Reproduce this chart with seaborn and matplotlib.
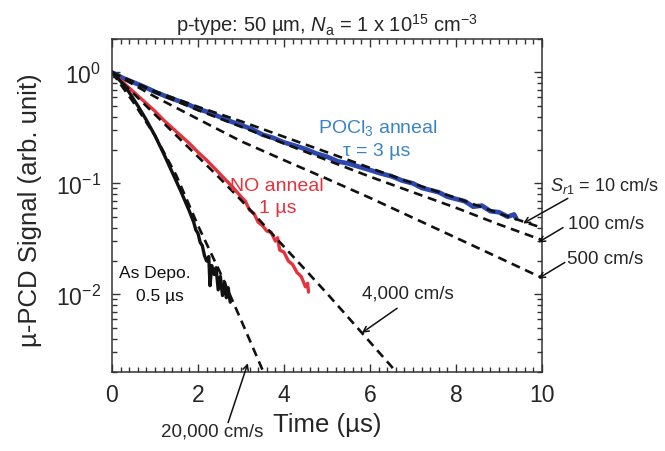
import numpy as np
import pandas as pd
import matplotlib
matplotlib.use("Agg")
import matplotlib.pyplot as plt
import seaborn as sns
from matplotlib.ticker import LogLocator, MultipleLocator, NullFormatter

# --- Dane ---
# POCl3 anneal (niebieska)
t_pocl = [0.0, 0.25, 0.5, 0.75, 1.0, 1.25, 1.5, 1.75, 2.0, 2.25, 2.5, 2.75, 3.0, 3.25,
          3.5, 3.75, 4.0, 4.25, 4.5, 4.75, 5.0, 5.25, 5.5, 5.75, 6.0, 6.25, 6.5, 6.75,
          7.0, 7.2, 7.4, 7.6, 7.8, 8.0, 8.2, 8.4, 8.6, 8.8, 9.0, 9.2, 9.35, 9.4]
s_pocl = [1.0, 0.891, 0.813, 0.741, 0.668, 0.610, 0.562, 0.519, 0.468, 0.437, 0.398,
          0.363, 0.335, 0.309, 0.275, 0.257, 0.234, 0.219, 0.204, 0.186, 0.174, 0.158,
          0.151, 0.141, 0.132, 0.123, 0.116, 0.106, 0.100, 0.0912, 0.0871, 0.0832,
          0.0759, 0.0724, 0.0692, 0.0617, 0.0631, 0.0562, 0.0550, 0.0501, 0.0525, 0.0484]

# NO anneal (czerwona)
t_no = [0.0, 0.2, 0.4, 0.6, 0.8, 1.0, 1.2, 1.4, 1.6, 1.8, 2.0, 2.2, 2.4, 2.6, 2.8, 3.0,
        3.1, 3.2, 3.3, 3.4, 3.5, 3.6, 3.7, 3.8, 3.85, 3.9, 4.0, 4.1, 4.2, 4.3, 4.4,
        4.5, 4.55, 4.57]
s_no = [1.0, 0.851, 0.724, 0.617, 0.525, 0.447, 0.372, 0.316, 0.269, 0.229, 0.191,
        0.162, 0.135, 0.112, 0.0933, 0.0759, 0.0692, 0.0575, 0.0537, 0.0447, 0.0417,
        0.0372, 0.0363, 0.0302, 0.0324, 0.0251, 0.0240, 0.0200, 0.0186, 0.0158,
        0.0145, 0.0117, 0.0126, 0.0105]

# As Depo. (czarna)
t_dep = [0.0, 0.2, 0.4, 0.6, 0.8, 1.0, 1.2, 1.4, 1.6, 1.8, 1.9, 1.95, 2.0, 2.05, 2.1,
         2.15, 2.2, 2.25, 2.28, 2.32, 2.38, 2.42, 2.47, 2.52, 2.57, 2.62, 2.66, 2.70, 2.75]
s_dep = [1.0, 0.832, 0.661, 0.501, 0.372, 0.269, 0.186, 0.126, 0.0851, 0.0562, 0.0447,
         0.0380, 0.0355, 0.0295, 0.0275, 0.0224, 0.0200, 0.0219, 0.0120, 0.0182,
         0.0151, 0.0174, 0.0110, 0.0145, 0.00977, 0.0129, 0.00933, 0.0115, 0.00851]

# Symulacje (przerywane) dla roznych S_r1
t_sim = [0, 1, 2, 3, 4, 5, 6, 7, 8, 9, 10]
s_10 = [1.0, 0.676, 0.490, 0.363, 0.263, 0.191, 0.138, 0.100, 0.0741, 0.0537, 0.0398]
s_100 = [1.0, 0.661, 0.457, 0.324, 0.229, 0.162, 0.115, 0.0832, 0.0603, 0.0427, 0.0309]
s_500 = [1.0, 0.603, 0.380, 0.240, 0.162, 0.110, 0.0741, 0.0490, 0.0324, 0.0214, 0.0141]

t_4000 = [0, 0.5, 1.0, 1.5, 2.0, 2.5, 3.0, 3.5, 4.0, 4.5, 5.0, 5.5, 6.0, 6.5, 6.75, 7.0]
s_4000 = [1.0, 0.646, 0.417, 0.269, 0.174, 0.112, 0.0708, 0.0437, 0.0269, 0.0166,
          0.0102, 0.00617, 0.00372, 0.00224, 0.00170, 0.00132]

t_20000 = [0, 0.5, 1.0, 1.5, 2.0, 2.5, 3.0, 3.5, 3.7]
s_20000 = [1.0, 0.537, 0.269, 0.117, 0.0417, 0.0162, 0.00589, 0.00209, 0.00141]

# --- Styl ---
sns.set_style("ticks")
plt.rcParams['font.family'] = ['Liberation Sans', 'DejaVu Sans']
plt.rcParams['mathtext.fontset'] = 'custom'
plt.rcParams['mathtext.rm'] = 'Liberation Sans'
plt.rcParams['mathtext.it'] = 'Liberation Sans:italic'

fig = plt.figure(figsize=(6.65, 4.52), dpi=100)
ax = fig.add_axes([112 / 665, 1 - 373 / 452, 430 / 665, 333 / 452])

blue, red, black = '#2c47b0', '#e5323c', '#111111'
sns.lineplot(x=t_pocl, y=s_pocl, ax=ax, color=blue, lw=3.4)
sns.lineplot(x=t_no, y=s_no, ax=ax, color=red, lw=2.4)
sns.lineplot(x=t_dep, y=s_dep, ax=ax, color=black, lw=2.4)

dash = (0, (3.4, 2.2))
for tt, ss in [(t_sim, s_10), (t_sim, s_100), (t_sim, s_500),
               (t_4000, s_4000), (t_20000, s_20000)]:
    sns.lineplot(x=tt, y=ss, ax=ax, color=black, lw=1.9, linestyle=dash)

ax.set_yscale('log')
ax.set_xlim(0, 10)
ax.set_ylim(2e-3, 2)

ax.xaxis.set_major_locator(MultipleLocator(2))
ax.xaxis.set_minor_locator(MultipleLocator(0.2))
ax.yaxis.set_major_locator(LogLocator(base=10, numticks=10))
ax.yaxis.set_minor_locator(LogLocator(base=10, subs=np.arange(2, 10), numticks=10))
ax.yaxis.set_minor_formatter(NullFormatter())
ax.tick_params(which='both', direction='in', top=True, right=True, color='#333333',
               labelsize=16.5, width=1.0)
ax.tick_params(which='major', length=6, pad=8)
ax.tick_params(which='minor', length=3.5)
for sp in ax.spines.values():
    sp.set_linewidth(1.1)
    sp.set_color('#333333')

ax.set_xlabel('Time (\u00b5s)', fontsize=18.5)
ax.set_ylabel('\u00b5-PCD Signal (arb. unit)', fontsize=18.5)
ax.xaxis.set_label_coords(0.5, -0.12)
ax.yaxis.set_label_coords(-0.163, 0.49)
ax.set_title('p-type: 50 \u00b5m, $N_\\mathregular{a}$ = 1 x 10$^{15}$ cm$^{-3}$',
             fontsize=14.5, pad=6)

# --- Opisy ---
ax.text(6.19, 0.32, 'POCl$_3$ anneal', color='#3a84c6', fontsize=14, ha='center', va='center')
ax.text(6.16, 0.20, '\u03c4 = 3 \u00b5s', color='#3a84c6', fontsize=14, ha='center', va='center')
ax.text(3.84, 0.096, 'NO anneal', color=red, fontsize=14, ha='center', va='center')
ax.text(3.86, 0.061, '1 \u00b5s', color=red, fontsize=14, ha='center', va='center')
ax.text(1.0, 0.0158, 'As Depo.', color=black, fontsize=12.5, ha='center', va='center')
ax.text(1.12, 0.0098, '0.5 \u00b5s', color=black, fontsize=12.5, ha='center', va='center')

arrow = dict(arrowstyle='->', color=black, lw=1.1, shrinkA=0, shrinkB=0)
ax.text(10.19, 0.096, '$S_{r1}$ = 10 cm/s', fontsize=13, ha='left', va='center',
        clip_on=False)
ax.annotate('', xy=(9.56, 0.0436), xytext=(10.6, 0.0733), arrowprops=arrow,
            annotation_clip=False)
ax.text(10.6, 0.0436, '100 cm/s', fontsize=13.5, ha='left', va='center', clip_on=False)
ax.annotate('', xy=(9.91, 0.0294), xytext=(10.49, 0.040), arrowprops=arrow,
            annotation_clip=False)
ax.text(10.58, 0.021, '500 cm/s', fontsize=13.5, ha='left', va='center', clip_on=False)
ax.annotate('', xy=(9.91, 0.0139), xytext=(10.53, 0.0194), arrowprops=arrow,
            annotation_clip=False)
ax.text(5.81, 0.0102, '4,000 cm/s', fontsize=13.5, ha='left', va='center')
ax.annotate('', xy=(5.81, 0.0045), xytext=(6.63, 0.0075), arrowprops=arrow)
ax.text(2.33, 5.9e-4, '20,000 cm/s', fontsize=13.5, ha='center', va='center', clip_on=False)
ax.annotate('', xy=(3.16, 0.0024), xytext=(2.70, 7.0e-4), arrowprops=arrow,
            annotation_clip=False)

fig.savefig('out.png', dpi=100)
